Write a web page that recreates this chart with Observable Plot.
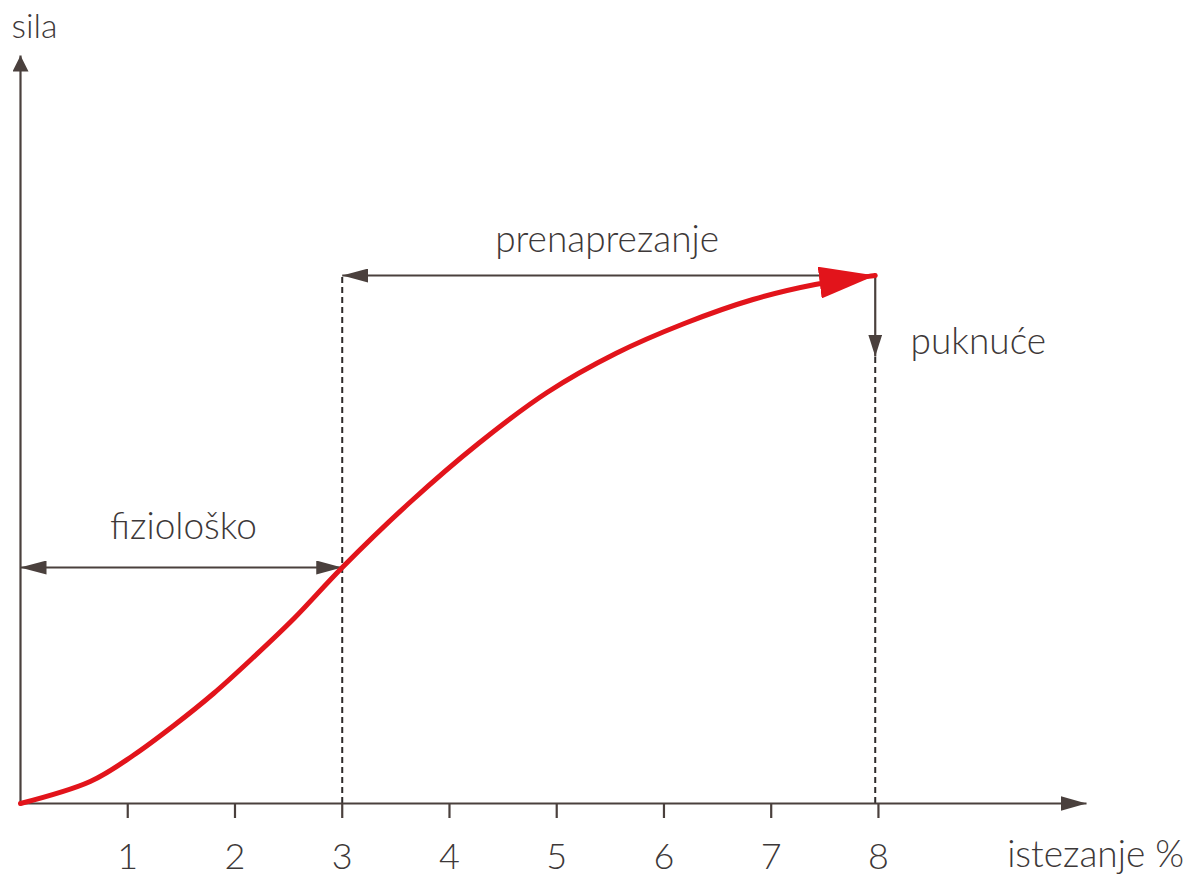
<!DOCTYPE html>
<html>
<head>
<meta charset="utf-8">
<script src="https://cdn.jsdelivr.net/npm/d3@7"></script>
<script src="https://cdn.jsdelivr.net/npm/@observablehq/plot@0.6"></script>
<style>
  html, body { margin: 0; padding: 0; background: #fff; }
  #chart svg { display: block; }
</style>
</head>
<body>
<div id="chart"></div>
<script>
// ---- data ----
const strain = [0, 0.65, 1.05, 1.43, 1.80, 2.17, 2.55, 3.0, 3.63, 4.27, 4.91, 5.55, 6.19, 6.83, 7.41, 7.97];
const force  = [0, 0.22, 0.48, 0.78, 1.10, 1.46, 1.85, 2.36, 3.01, 3.60, 4.11, 4.50, 4.80, 5.04, 5.19, 5.28];
const xTicks = [1, 2, 3, 4, 5, 6, 7, 8];
const physioEnd = 3;        // end of physiological range
const ruptureAt = 7.97;     // rupture strain
const physioForce = 2.36;   // force level of the "fiziološko" arrow
const overForce = 5.28;     // force level of the "prenaprezanje" arrow
const ruptureArrowEnd = 4.47;
const xMax = 9.94;
const yMax = 7.48;
const centerLabels = [
  {x: 1.52, y: 2.76, text: "fiziološko"},
  {x: 5.47, y: 5.63, text: "prenaprezanje"}
];
const startLabels = [
  {x: 8.3, y: 4.61, text: "puknuće"},
  {x: 9.2, y: -0.52, text: "istezanje %"}
];
const yLabel = [{x: 0.13, y: 7.76, text: "sila"}];

const curve = strain.map((x, i) => ({x, y: force[i]}));

const SVGNS = "http://www.w3.org/2000/svg";
function head(len, wid, reverse = false) {
  return (color, context) => {
    const doc = (context && context.document) || document;
    const m = doc.createElementNS(SVGNS, "marker");
    m.setAttribute("viewBox", `${-len} ${-wid / 2} ${len} ${wid}`);
    m.setAttribute("markerUnits", "userSpaceOnUse");
    m.setAttribute("markerWidth", len);
    m.setAttribute("markerHeight", wid);
    m.setAttribute("refX", 0);
    m.setAttribute("refY", 0);
    m.setAttribute("orient", reverse ? "auto-start-reverse" : "auto");
    const p = doc.createElementNS(SVGNS, "path");
    p.setAttribute("d", `M${-len},${-wid / 2}L0,0L${-len},${wid / 2}Z`);
    p.setAttribute("fill", color);
    p.setAttribute("stroke", "none");
    m.appendChild(p);
    return m;
  };
}

const ink = "#4a403d";
const textInk = "#3d3838";
const red = "#e2141b";
const font = 37;

const chart = Plot.plot({
  width: 1204,
  height: 879,
  marginTop: 55,
  marginLeft: 20,
  marginRight: 118,
  marginBottom: 76,
  style: {fontFamily: "Lato, 'Open Sans', sans-serif", fontWeight: 300, background: "#fff", overflow: "visible"},
  x: {domain: [0, xMax], axis: null},
  y: {domain: [0, yMax], axis: null},
  marks: [
    // dashed guides
    Plot.ruleX([physioEnd], {y1: 0, y2: overForce, stroke: "#2e2a2a", strokeWidth: 2, strokeDasharray: "6,4"}),
    Plot.ruleX([ruptureAt], {y1: 0, y2: ruptureArrowEnd, stroke: "#2e2a2a", strokeWidth: 2, strokeDasharray: "6,4"}),
    // axes
    Plot.link([{x1: 0, y1: 0, x2: 0, y2: yMax}], {x1: "x1", y1: "y1", x2: "x2", y2: "y2", stroke: ink, strokeWidth: 2.2, markerEnd: head(16, 16)}),
    Plot.link([{x1: 0, y1: 0, x2: xMax, y2: 0}], {x1: "x1", y1: "y1", x2: "x2", y2: "y2", stroke: ink, strokeWidth: 2.2, markerEnd: head(26, 15)}),
    Plot.axisX({ticks: xTicks, tickSize: 15, tickPadding: 25, fontSize: 36, label: null, stroke: ink, fill: textInk, strokeWidth: 2.2, tickFormat: d => d}),
    // range arrows
    Plot.link([{x1: 0, x2: physioEnd, y: physioForce}], {x1: "x1", x2: "x2", y1: "y", y2: "y", stroke: ink, strokeWidth: 2.2, markerStart: head(26, 14, true), markerEnd: head(26, 14)}),
    Plot.link([{x1: ruptureAt, x2: physioEnd, y: overForce}], {x1: "x1", x2: "x2", y1: "y", y2: "y", stroke: ink, strokeWidth: 2.2, markerEnd: head(26, 14)}),
    Plot.link([{x: ruptureAt, y1: overForce, y2: ruptureArrowEnd}], {x1: "x", x2: "x", y1: "y1", y2: "y2", stroke: ink, strokeWidth: 2.2, markerEnd: head(22, 14)}),
    // force-strain curve
    Plot.line(curve, {x: "x", y: "y", stroke: red, strokeWidth: 5, curve: "catmull-rom", markerEnd: head(56, 32)}),
    // labels
    Plot.text(centerLabels, {x: "x", y: "y", text: "text", textAnchor: "middle", fontSize: font, fill: textInk, lineAnchor: "middle"}),
    Plot.text(startLabels, {x: "x", y: "y", text: "text", textAnchor: "start", fontSize: font, fill: textInk, lineAnchor: "middle"}),
    Plot.text(yLabel, {x: "x", y: "y", text: "text", textAnchor: "middle", fontSize: 34, fill: textInk, lineAnchor: "middle"})
  ]
});
document.getElementById("chart").appendChild(chart);
</script>
</body>
</html>
